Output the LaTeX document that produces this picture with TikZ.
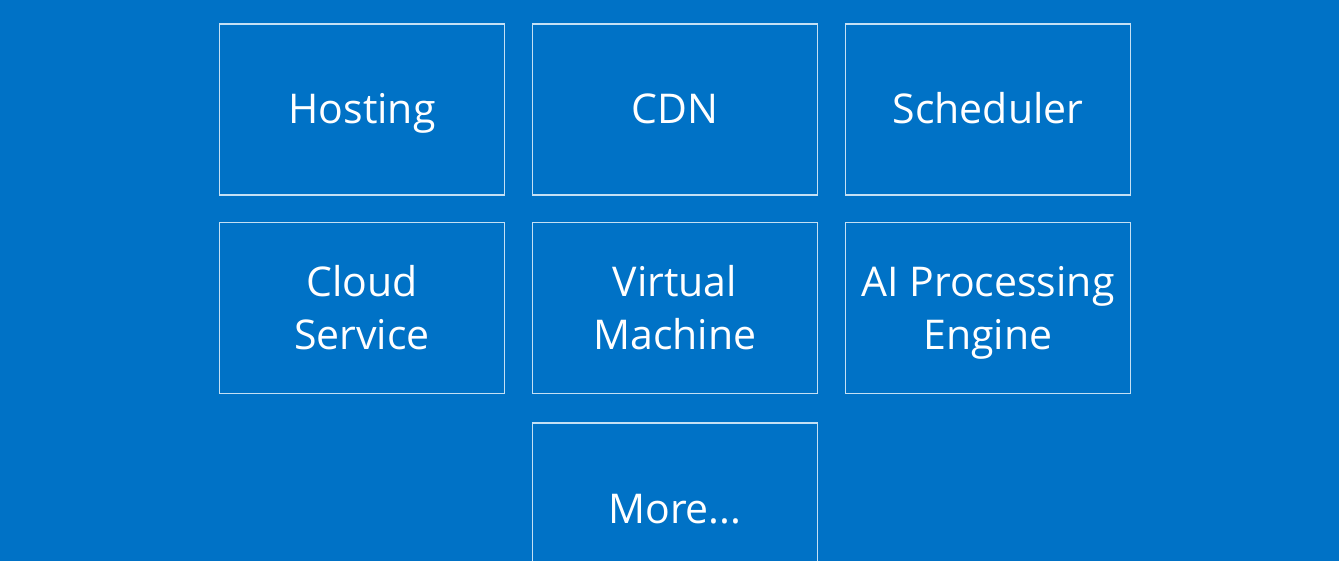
\documentclass[tikz,border=0pt]{standalone}
\usepackage{fontspec}
\setmainfont{Open Sans}
\definecolor{azureblue}{HTML}{0072C6}
\definecolor{tileline}{HTML}{C4E0F4}
\tikzset{
  tile/.style={draw=tileline, line width=1.5pt, minimum width=285pt, minimum height=171pt,
    inner sep=0pt, align=center, text=white, text height=29pt, text depth=0pt,
    font=\fontsize{41}{53}\selectfont},
  twoline/.style={text height=82pt}
}

\begin{document}
\begin{tikzpicture}[x=1pt,y=1pt]
    \fill[azureblue] (0,0) rectangle (1339,-561);
    \useasboundingbox (0,0) rectangle (1339,-561);

    \node[tile] (hosting) at (362,-109.5) {Hosting};
    \node[tile] (cdn) at (675,-109.5) {CDN};
    \node[tile] (scheduler) at (988,-109.5) {Scheduler};

    \node[tile,twoline] (cloud) at (362,-308) {Cloud\\Service};
    \node[tile,twoline] (vm) at (675,-308) {Virtual\\Machine};
    \node[tile,twoline] (ai) at (988,-308) {AI Processing\\Engine};

    \node[tile] (more) at (675,-508.5) {More...};
\end{tikzpicture}
\end{document}
